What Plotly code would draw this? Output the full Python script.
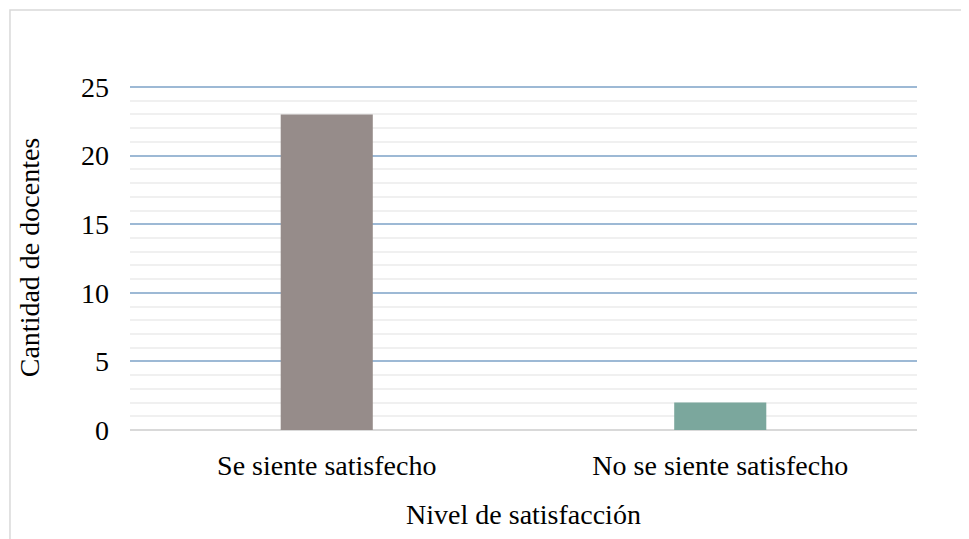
import plotly.graph_objects as go

categorias = ["Se siente satisfecho", "No se siente satisfecho"]
docentes = [23, 2]
colores = ["#968C8A", "#7BA79D"]
y_ticks = [0, 5, 10, 15, 20, 25]

FONT = "Liberation Serif, Times New Roman, serif"
FS = 28

fig = go.Figure(go.Bar(x=categorias, y=docentes, marker=dict(color=colores, line=dict(width=0))))

# plot area: 345 px tall for range 0..25.15 so that 25 sits ~2px below the top edge
fig.update_layout(
    width=969, height=539,
    margin=dict(l=122, r=60, t=77, b=117, autoexpand=False),
    paper_bgcolor="white", plot_bgcolor="white",
    bargap=0.766,
    showlegend=False,
    font=dict(family=FONT, size=FS, color="#000000"),
    shapes=[dict(type="rect", xref="paper", yref="paper",
                 x0=-0.1525, x1=1.3, y0=-0.5, y1=(422 - 2) / 345,
                 line=dict(color="#D9D9D9", width=1.5), layer="below")],
)

fig.update_yaxes(
    range=[0, 25.15], tickvals=y_ticks, showgrid=True, gridcolor="#9DB9D5", gridwidth=1.5,
    minor=dict(dtick=1, showgrid=True, gridcolor="#F0F0F0", gridwidth=1.5),
    zeroline=True, zerolinecolor="#D9D9D9", zerolinewidth=1.5,
    showline=False, ticks="", ticklabelstandoff=20,
    tickfont=dict(family=FONT, size=FS),
    title=dict(text="Cantidad de docentes", font=dict(family=FONT, size=FS), standoff=33),
)
fig.update_xaxes(
    showgrid=False, showline=False, ticks="", ticklabelstandoff=16,
    tickfont=dict(family=FONT, size=FS),
    title=dict(text="Nivel de satisfacción", font=dict(family=FONT, size=FS), standoff=24),
)

fig.write_html("out.html")
